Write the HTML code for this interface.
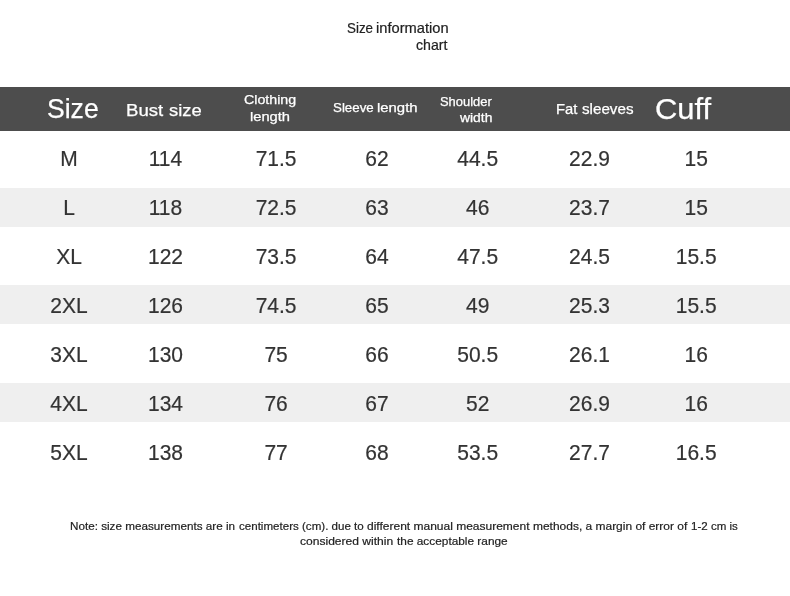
<!DOCTYPE html>
<html><head><meta charset="utf-8"><title>Size chart</title>
<style>
html,body{margin:0;padding:0;background:#fff;}
body{width:790px;height:596px;position:relative;overflow:hidden;filter:grayscale(1);font-family:"Liberation Sans",sans-serif;}
.bar{position:absolute;left:-10px;width:810px;}
.hd{background:#4d4d4d;top:87px;height:44px;}
.g{background:#efefef;height:39px;}
.t{position:absolute;white-space:nowrap;line-height:1;transform-origin:0 0;}
.d{font-size:21px;color:#333;-webkit-text-stroke:0.2px #333;width:100px;margin-left:-50px;text-align:center;transform:scale(1,1.045);transform-origin:50% 0;}
.h{color:#fff;-webkit-text-stroke:0.25px #fff;}
.n{color:#222;-webkit-text-stroke:0.2px #222;}
</style></head><body>
<div class="bar hd"></div>
<div class="bar g" style="top:188px"></div>
<div class="bar g" style="top:285px"></div>
<div class="bar g" style="top:383px"></div>

<div class="t d" style="left:69px;top:147px">M</div>
<div class="t d" style="left:165.5px;top:147px">114</div>
<div class="t d" style="left:276.1px;top:147px">71.5</div>
<div class="t d" style="left:377px;top:147px">62</div>
<div class="t d" style="left:477.7px;top:147px">44.5</div>
<div class="t d" style="left:589.5px;top:147px">22.9</div>
<div class="t d" style="left:696.2px;top:147px">15</div>
<div class="t d" style="left:69px;top:196px">L</div>
<div class="t d" style="left:165.5px;top:196px">118</div>
<div class="t d" style="left:276.1px;top:196px">72.5</div>
<div class="t d" style="left:377px;top:196px">63</div>
<div class="t d" style="left:477.7px;top:196px">46</div>
<div class="t d" style="left:589.5px;top:196px">23.7</div>
<div class="t d" style="left:696.2px;top:196px">15</div>
<div class="t d" style="left:69px;top:245px">XL</div>
<div class="t d" style="left:165.5px;top:245px">122</div>
<div class="t d" style="left:276.1px;top:245px">73.5</div>
<div class="t d" style="left:377px;top:245px">64</div>
<div class="t d" style="left:477.7px;top:245px">47.5</div>
<div class="t d" style="left:589.5px;top:245px">24.5</div>
<div class="t d" style="left:696.2px;top:245px">15.5</div>
<div class="t d" style="left:69px;top:294px">2XL</div>
<div class="t d" style="left:165.5px;top:294px">126</div>
<div class="t d" style="left:276.1px;top:294px">74.5</div>
<div class="t d" style="left:377px;top:294px">65</div>
<div class="t d" style="left:477.7px;top:294px">49</div>
<div class="t d" style="left:589.5px;top:294px">25.3</div>
<div class="t d" style="left:696.2px;top:294px">15.5</div>
<div class="t d" style="left:69px;top:343px">3XL</div>
<div class="t d" style="left:165.5px;top:343px">130</div>
<div class="t d" style="left:276.1px;top:343px">75</div>
<div class="t d" style="left:377px;top:343px">66</div>
<div class="t d" style="left:477.7px;top:343px">50.5</div>
<div class="t d" style="left:589.5px;top:343px">26.1</div>
<div class="t d" style="left:696.2px;top:343px">16</div>
<div class="t d" style="left:69px;top:392px">4XL</div>
<div class="t d" style="left:165.5px;top:392px">134</div>
<div class="t d" style="left:276.1px;top:392px">76</div>
<div class="t d" style="left:377px;top:392px">67</div>
<div class="t d" style="left:477.7px;top:392px">52</div>
<div class="t d" style="left:589.5px;top:392px">26.9</div>
<div class="t d" style="left:696.2px;top:392px">16</div>
<div class="t d" style="left:69px;top:441px">5XL</div>
<div class="t d" style="left:165.5px;top:441px">138</div>
<div class="t d" style="left:276.1px;top:441px">77</div>
<div class="t d" style="left:377px;top:441px">68</div>
<div class="t d" style="left:477.7px;top:441px">53.5</div>
<div class="t d" style="left:589.5px;top:441px">27.7</div>
<div class="t d" style="left:696.2px;top:441px">16.5</div>
<div class="t h" id="hsize" style="left:47.30px;top:94.57px;font-size:27.32px;transform:scale(0.9724,1.0000);">Size</div>
<div class="t h" id="hcl1" style="left:243.50px;top:94.41px;font-size:12.60px;transform:scale(1.1292,1.0000);">Clothing</div>
<div class="t h" id="hcl2" style="left:250.15px;top:111.11px;font-size:12.64px;transform:scale(1.1637,1.0000);">length</div>
<div class="t h" id="hsh1" style="left:439.70px;top:95.87px;font-size:12.00px;transform:scale(1.0759,1.0000);">Shoulder</div>
<div class="t h" id="hsh2" style="left:460.03px;top:111.87px;font-size:12.00px;transform:scale(1.1569,1.0000);">width</div>
<div class="t h" id="hcuff" style="left:655.38px;top:94.28px;font-size:29.60px;transform:scale(1.0457,1.0000);">Cuff</div>
<div class="t n" id="t2" style="left:416.26px;top:37.52px;font-size:13.40px;transform:scale(1.0587,1.0600);">chart</div>
<div class="t n" id="n1a" style="left:69.90px;top:519.72px;font-size:11.60px;transform:scale(1.0080,1.0000);">Note: size measurements are in</div>
<div class="t n" id="n1b" style="left:238.50px;top:519.72px;font-size:11.60px;transform:scale(0.9980,1.0000);">centimeters (cm). due to</div>
<div class="t n" id="n1c" style="left:366.50px;top:519.72px;font-size:11.60px;transform:scale(1.0348,1.0000);">different manual measurement</div>
<div class="t n" id="n1d" style="left:532.50px;top:519.72px;font-size:11.60px;transform:scale(1.0319,1.0000);">methods, a margin of error of</div>
<div class="t n" id="n1e" style="left:690.50px;top:519.72px;font-size:11.60px;transform:scale(0.9963,1.0000);">1-2 cm is</div>
<div class="t n" id="n2a" style="left:299.50px;top:536.00px;font-size:11.50px;transform:scale(1.0485,1.0000);">considered within</div>
<div class="t n" id="n2b" style="left:396.50px;top:536.00px;font-size:11.50px;transform:scale(1.0304,1.0000);">the acceptable range</div>
<div class="t n" id="t1a" style="left:347.10px;top:20.52px;font-size:13.40px;transform:scale(0.9996,1.0600);">Size</div>
<div class="t n" id="t1b" style="left:375.90px;top:20.52px;font-size:13.40px;transform:scale(1.0952,1.0600);">information</div>
<div class="t h" id="hbusta" style="left:126.10px;top:103.16px;font-size:16.80px;transform:scale(1.1075,1.0000);">Bust</div>
<div class="t h" id="hbustb" style="left:169.10px;top:103.16px;font-size:16.80px;transform:scale(1.0953,1.0000);">size</div>
<div class="t h" id="hsla" style="left:333.10px;top:102.20px;font-size:12.70px;transform:scale(1.0491,1.0000);">Sleeve</div>
<div class="t h" id="hslb" style="left:376.90px;top:102.20px;font-size:12.70px;transform:scale(1.1738,1.0000);">length</div>
<div class="t h" id="hfata" style="left:555.50px;top:102.58px;font-size:13.80px;transform:scale(1.0679,1.0000);">Fat</div>
<div class="t h" id="hfatb" style="left:581.50px;top:102.58px;font-size:13.80px;transform:scale(1.1012,1.0000);">sleeves</div>
</body></html>
